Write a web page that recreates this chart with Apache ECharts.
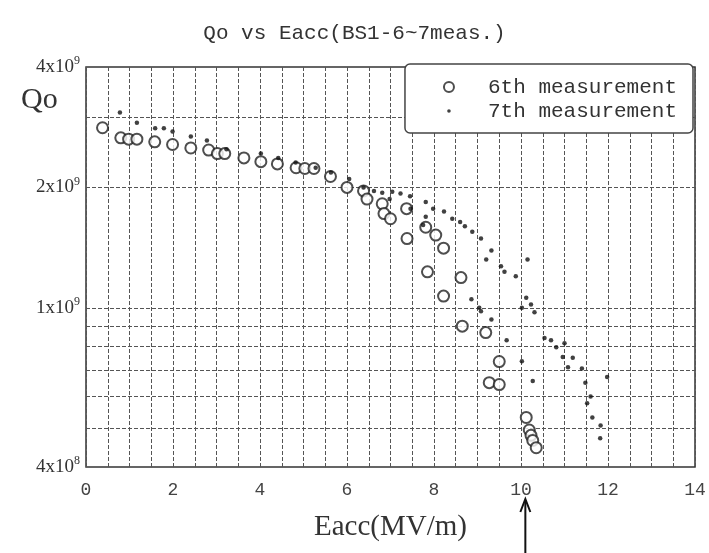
<!DOCTYPE html>
<html><head><meta charset="utf-8">
<script src="https://cdn.jsdelivr.net/npm/echarts@6/dist/echarts.min.js"></script>
<style>html,body{margin:0;padding:0;background:#fff}#c{width:709px;height:553px}</style>
</head><body><div id="c"></div>
<script>
const titleText = 'Qo vs Eacc(BS1-6~7meas.)';
const xName = 'Eacc(MV/m)';
const yName = 'Qo';
const seriesNames = ['6th measurement', '7th measurement'];
const xTickLabels = [0, 2, 4, 6, 8, 10, 12, 14];
const yTickLabels = [4e8, 1e9, 2e9, 4e9];
const yGridValues = [5e8, 6e8, 7e8, 8e8, 9e8, 1e9, 2e9, 3e9];
const arrowE = 10.1;

const sixthE = [0.38,0.80,0.98,1.17,1.58,1.99,2.41,2.82,3.02,3.19,3.63,4.02,4.40,4.83,5.03,5.24,5.62,6.00,6.38,6.46,6.81,6.85,7.00,7.37,7.38,7.81,8.04,8.22,7.85,8.62,8.22,8.65,9.19,9.50,9.27,9.50,10.12,10.19,10.23,10.27,10.35];
const sixthQ = [2.82e9,2.66e9,2.64e9,2.64e9,2.60e9,2.56e9,2.51e9,2.48e9,2.43e9,2.43e9,2.37e9,2.32e9,2.29e9,2.24e9,2.23e9,2.23e9,2.13e9,2.00e9,1.96e9,1.87e9,1.82e9,1.72e9,1.67e9,1.77e9,1.49e9,1.59e9,1.52e9,1.41e9,1.23e9,1.19e9,1.07e9,9.0e8,8.67e8,7.34e8,6.5e8,6.43e8,5.32e8,4.95e8,4.8e8,4.66e8,4.47e8];

const seventhE = [0.78,1.17,1.59,1.79,1.99,2.41,2.78,3.23,4.02,4.42,4.82,5.28,5.63,6.05,6.38,6.62,6.81,6.98,7.04,7.23,7.45,7.46,7.75,7.81,7.81,7.98,8.23,8.42,8.60,8.71,8.86,8.88,9.04,9.08,9.08,9.20,9.32,9.32,9.54,9.62,9.67,9.88,10.02,10.02,10.12,10.15,10.23,10.27,10.31,10.54,10.69,10.81,10.96,11.00,11.08,11.19,11.40,11.48,11.52,11.60,11.64,11.82,11.83,11.98];
const seventhQ = [3.08e9,2.90e9,2.81e9,2.81e9,2.76e9,2.68e9,2.62e9,2.49e9,2.43e9,2.37e9,2.31e9,2.24e9,2.18e9,2.10e9,2.00e9,1.96e9,1.94e9,1.87e9,1.95e9,1.93e9,1.90e9,1.77e9,1.61e9,1.84e9,1.69e9,1.77e9,1.74e9,1.67e9,1.64e9,1.60e9,1.05e9,1.55e9,1.00e9,1.49e9,9.8e8,1.32e9,1.39e9,9.35e8,1.27e9,1.23e9,8.3e8,1.20e9,1.00e9,7.35e8,1.06e9,1.32e9,1.02e9,6.56e8,9.75e8,8.4e8,8.3e8,7.97e8,7.53e8,8.15e8,7.1e8,7.5e8,7.05e8,6.5e8,5.77e8,6.0e8,5.32e8,4.72e8,5.08e8,6.72e8];

const zip = (a, b) => a.map((v, i) => [v, b[i]]);
const chart = echarts.init(document.getElementById('c'), null, {renderer: 'canvas'});
const gridLine = {show: true, lineStyle: {color: '#555', width: 1, type: [4, 2]}};

function supLabel(v) {
  const e = Math.floor(Math.log10(v) + 1e-9);
  const m = Math.round(v / Math.pow(10, e));
  return '{m|' + m + 'x10}{e|' + e + '}';
}

chart.setOption({
  backgroundColor: '#fff',
  animation: false,
  title: [
    {text: titleText, left: 'center', top: 18,
     textStyle: {fontFamily: 'Liberation Mono', fontSize: 21, fontWeight: 'normal', color: '#333'}},
    {text: yName, left: 16, top: 80,
     textStyle: {fontFamily: 'Liberation Serif', fontSize: 30, fontWeight: 'normal', color: '#333'}}
  ],
  grid: {left: 86, right: 14, top: 67, bottom: 86, show: true, borderColor: '#333', borderWidth: 1.5, backgroundColor: 'transparent'},
  legend: {
    orient: 'vertical', right: 16, top: 64,
    data: [
      {name: seriesNames[0], icon: 'emptyCircle'},
      {name: seriesNames[1], icon: 'path://M0,0M10,10M3.2,5a1.8,1.8,0,1,0,3.6,0a1.8,1.8,0,1,0,-3.6,0z', itemStyle: {color: '#111', borderWidth: 0}}
    ],
    itemWidth: 10, itemHeight: 10, itemGap: 0,
    padding: [11, 16, 10, 38],
    backgroundColor: '#fff', borderColor: '#444', borderWidth: 1.5, borderRadius: 5,
    textStyle: {fontFamily: 'Liberation Mono', fontSize: 21, lineHeight: 24, color: '#333', padding: [0, 0, 0, 29]}
  },
  xAxis: {
    type: 'value', min: 0, max: 14, interval: 0.5,
    name: xName, nameLocation: 'middle', nameGap: 46,
    nameTextStyle: {fontFamily: 'Liberation Serif', fontSize: 29, color: '#333'},
    axisLine: {show: false}, axisTick: {show: false},
    axisLabel: {margin: 14, fontFamily: 'Liberation Mono', fontSize: 18, color: '#444',
      formatter: v => (xTickLabels.indexOf(v) >= 0 ? String(v) : '')},
    splitLine: gridLine
  },
  yAxis: {
    type: 'log', logBase: 10, min: 4e8, max: 4e9,
    axisLine: {show: false},
    axisTick: {show: false, customValues: yGridValues},
    axisLabel: {customValues: yTickLabels, margin: 6, formatter: supLabel,
      rich: {m: {fontFamily: 'Liberation Serif', fontSize: 19, color: '#333'},
             e: {fontFamily: 'Liberation Serif', fontSize: 12, color: '#333', verticalAlign: 'top', padding: [0, 0, 12, 0]}}},
    splitLine: gridLine,
    minorSplitLine: {show: false}
  },
  series: [
    {name: seriesNames[0], type: 'scatter', symbol: 'emptyCircle', symbolSize: 11,
     itemStyle: {color: '#222', borderWidth: 1.3}, data: zip(sixthE, sixthQ), z: 3},
    {name: seriesNames[1], type: 'scatter', symbol: 'circle', symbolSize: 4.5,
     itemStyle: {color: '#111'}, data: zip(seventhE, seventhQ), z: 4}
  ]
});

const ax = chart.convertToPixel({xAxisIndex: 0}, arrowE);
chart.setOption({
  graphic: [
    {type: 'polyline', shape: {points: [[ax, 553], [ax, 500]]}, style: {stroke: '#111', lineWidth: 2, fill: null}},
    {type: 'polyline', shape: {points: [[ax - 5, 512], [ax, 499], [ax + 5, 512]]}, style: {stroke: '#111', lineWidth: 2, fill: null}}
  ]
});
</script></body></html>
